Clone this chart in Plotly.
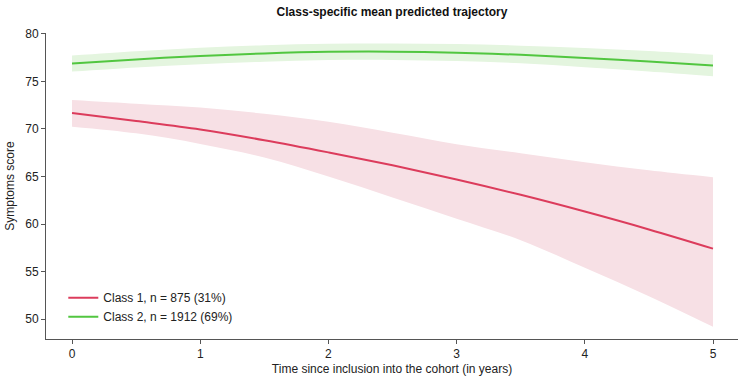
import plotly.graph_objects as go

years = [0, 0.5, 1, 1.5, 2, 2.5, 3, 3.5, 4, 4.5, 5]

class1_mean = [71.68, 70.84, 69.95, 68.82, 67.54, 66.18, 64.69, 63.07, 61.31, 59.43, 57.41]
class1_upper = [73.04, 72.65, 72.25, 71.60, 70.75, 69.60, 68.40, 67.45, 66.50, 65.65, 64.92]
class1_lower = [70.24, 69.54, 68.43, 67.00, 65.00, 62.80, 60.56, 58.30, 55.40, 52.40, 49.18]

class2_mean = [76.90, 77.32, 77.68, 77.95, 78.12, 78.14, 78.03, 77.80, 77.48, 77.10, 76.67]
class2_upper = [77.72, 78.17, 78.55, 78.82, 78.97, 79.00, 78.93, 78.77, 78.53, 78.20, 77.80]
class2_lower = [76.04, 76.47, 76.82, 77.08, 77.25, 77.27, 77.15, 76.92, 76.50, 76.05, 75.56]

x_ticks = [0, 1, 2, 3, 4, 5]
y_ticks = [50, 55, 60, 65, 70, 75, 80]

labels = ["Class 1, n = 875 (31%)", "Class 2, n = 1912 (69%)"]
line_colors = ["#DC3C5C", "#52C640"]
band_colors = ["#F7E0E5", "#E4F5DF"]

FONT = "Liberation Sans, Arial, sans-serif"

fig = go.Figure()

series = [
    (class1_mean, class1_upper, class1_lower),
    (class2_mean, class2_upper, class2_lower),
]

for (m, u, l), bc in zip(series, band_colors):
    fig.add_trace(go.Scatter(
        x=years, y=l, mode="lines", line=dict(width=0, shape="spline"),
        showlegend=False, hoverinfo="skip",
    ))
    fig.add_trace(go.Scatter(
        x=years, y=u, mode="lines", line=dict(width=0, shape="spline"),
        fill="tonexty", fillcolor=bc, showlegend=False, hoverinfo="skip",
    ))

for (m, u, l), lc, name in zip(series, line_colors, labels):
    fig.add_trace(go.Scatter(
        x=years, y=m, mode="lines", name=name,
        line=dict(color=lc, width=2, shape="spline"),
    ))

axis_common = dict(
    showgrid=False, zeroline=False, showline=True, linecolor="#555555", linewidth=1,
    ticks="outside", ticklen=4, tickcolor="#555555", tickwidth=1, automargin=False,
    tickfont=dict(family=FONT, size=12, color="#222222"),
)

fig.update_xaxes(
    range=[-0.203, 5.195], tickvals=x_ticks,
    title=dict(text="Time since inclusion into the cohort (in years)",
               font=dict(family=FONT, size=12, color="#222222"), standoff=4),
    **axis_common,
)
fig.update_yaxes(
    range=[47.9, 80.1], tickvals=y_ticks,
    title=dict(text="Symptoms score",
               font=dict(family=FONT, size=12, color="#222222"), standoff=8),
    **axis_common,
)

fig.update_layout(
    width=745, height=385,
    margin=dict(l=46, r=7, t=33, b=46, autoexpand=False),
    paper_bgcolor="white", plot_bgcolor="white",
    title=dict(text="<b>Class-specific mean predicted trajectory</b>",
               font=dict(family="Liberation Sans Narrow, Liberation Sans, Arial, sans-serif", size=12, color="#111111"),
               x=0.5, xref="paper", xanchor="center", y=0.97, yanchor="middle"),
    legend=dict(
        x=0.025, y=0.182, xanchor="left", yanchor="top", traceorder="normal",
        font=dict(family=FONT, size=12, color="#222222"),
        bgcolor="rgba(0,0,0,0)", itemwidth=30, tracegroupgap=0,
    ),
    showlegend=True,
)

fig.write_html("out.html", config={"displayModeBar": False},
               post_script="document.body.style.margin='0px';")
